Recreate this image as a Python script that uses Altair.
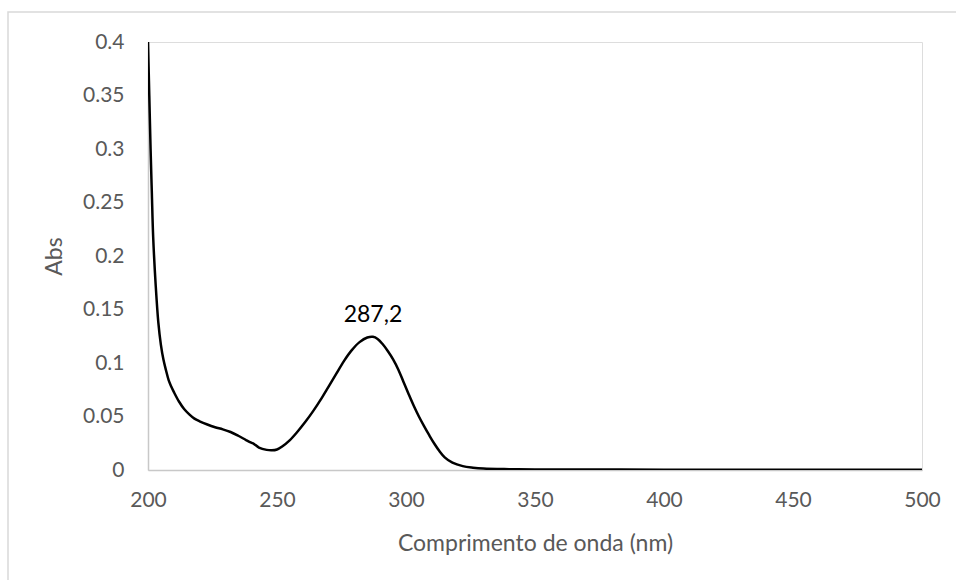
import altair as alt
import pandas as pd

# UV-Vis absorption spectrum
wavelength = [200, 200.5, 201, 201.5, 202, 203, 204, 205, 206, 207, 208, 209, 210,
              212, 214, 216, 218, 220, 223, 226, 229, 232, 235, 238, 240, 241,
              243, 246, 248, 250, 252, 255, 258, 261, 264, 267, 270, 273, 276,
              279, 282, 285, 287.2, 289, 291, 293, 295, 297, 299, 301, 303, 305,
              307, 309, 311, 313, 315, 318, 322, 326, 330, 340, 350, 375, 400,
              425, 450, 475, 500]
absorbance = [0.400, 0.350, 0.300, 0.258, 0.218, 0.172, 0.138, 0.117, 0.103, 0.093,
              0.084, 0.078, 0.073, 0.064, 0.057, 0.052, 0.048, 0.0455, 0.0425,
              0.040, 0.038, 0.0355, 0.032, 0.028, 0.0255, 0.0245, 0.021, 0.0188,
              0.0184, 0.0192, 0.022, 0.028, 0.036, 0.045, 0.055, 0.066, 0.078,
              0.090, 0.102, 0.112, 0.1195, 0.1238, 0.1245, 0.1225, 0.1175, 0.111,
              0.1034, 0.094, 0.0825, 0.071, 0.060, 0.050, 0.041, 0.0325, 0.0245,
              0.0175, 0.0118, 0.0068, 0.0036, 0.0022, 0.0014, 0.0008, 0.0005,
              0.0004, 0.0003, 0.0003, 0.0002, 0.0003, 0.0003]

peak_wavelength = [287.2]
peak_absorbance = [0.1245]
peak_label = ["287,2"]

x_ticks = [200, 250, 300, 350, 400, 450, 500]
y_ticks = [0, 0.05, 0.1, 0.15, 0.2, 0.25, 0.3, 0.35, 0.4]

spectrum = pd.DataFrame({"wl": wavelength, "abs": absorbance})
peak = pd.DataFrame({"wl": peak_wavelength, "abs": peak_absorbance, "label": peak_label})

FONT = "Lato"
AXIS_GREY = "#c8c8c8"
TEXT_GREY = "#595959"

x_enc = alt.X(
    "wl:Q",
    scale=alt.Scale(domain=[200, 500], nice=False, zero=False),
    axis=alt.Axis(
        values=x_ticks, title="Comprimento de onda (nm)", ticks=False, grid=False,
        labelFlush=False, domainColor=AXIS_GREY, domainWidth=1.5, labelFont=FONT,
        labelFontSize=21, labelColor=TEXT_GREY, labelPadding=19, titleFont=FONT,
        titleFontSize=23, titleFontWeight="normal", titleColor=TEXT_GREY,
        titlePadding=22,
    ),
)
y_enc = alt.Y(
    "abs:Q",
    scale=alt.Scale(domain=[0, 0.4], nice=False),
    axis=alt.Axis(
        values=y_ticks, format=".2~f", title="Abs", ticks=False, grid=False,
        labelFlush=False, domainColor=AXIS_GREY, domainWidth=1.5, labelFont=FONT,
        labelFontSize=21, labelColor=TEXT_GREY, labelPadding=24, titleFont=FONT,
        titleFontSize=23, titleFontWeight="normal", titleColor=TEXT_GREY,
        titlePadding=16,
    ),
)

line = alt.Chart(spectrum).mark_line(
    color="black", strokeWidth=2.5, interpolate="catmull-rom", clip=True
).encode(x=x_enc, y=y_enc)

label = alt.Chart(peak).mark_text(
    font=FONT, fontSize=23, color="black", baseline="alphabetic", dy=-15
).encode(x="wl:Q", y="abs:Q", text="label:N")

frame = alt.Chart(alt.Data(values=[{}])).mark_rect(
    fill=None, stroke="#d9d9d9", strokeWidth=1.5
).encode(
    x=alt.value(-140), x2=alt.value(830),
    y=alt.value(-30), y2=alt.value(560),
)

chart = alt.layer(frame, line, label).properties(
    width=774,
    height=428,
    autosize=alt.AutoSizeParams(type="none"),
    padding={"left": 148, "top": 42, "right": 34, "bottom": 110},
).configure_view(stroke=None).configure(background="white")

chart.save("out.html", embed_options={"renderer": "svg", "actions": False})
